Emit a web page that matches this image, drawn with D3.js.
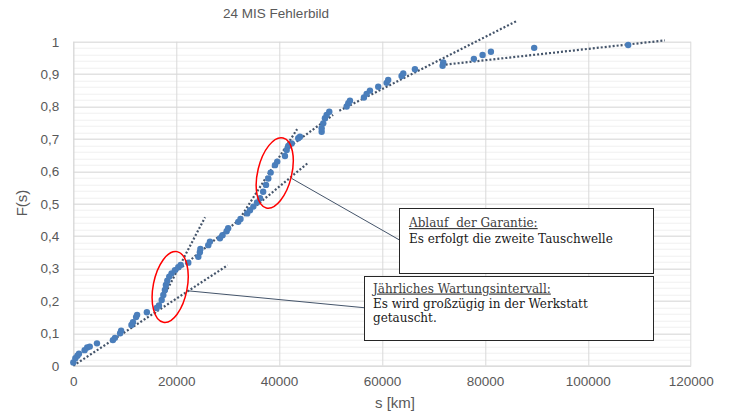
<!DOCTYPE html>
<html>
<head>
<meta charset="utf-8">
<script src="https://cdn.jsdelivr.net/npm/d3@7"></script>
<style>
  body { margin: 0; background: #fff; }
  svg { display: block; }
  .tick text { font-family: "Liberation Sans", Arial, sans-serif; font-size: 13.5px; fill: #595959; }
  .note { font-family: "DejaVu Serif", Georgia, serif; font-size: 12px; }
</style>
</head>
<body>
<svg id="chart" width="730" height="414"></svg>
<script>
// kilometres driven at failure and median rank F(s)
var km = [0, 400, 800, 1100, 2200, 2700, 3200, 4600, 7700, 8100, 9100, 9300, 11300, 11600, 12200, 12400, 14300,
    16200, 16650, 17180, 17500, 17800, 18000, 18270, 18650, 19100, 19760, 20400, 20870, 22350, 24300, 24600, 24700,
    26230, 26560, 28500, 29000, 29800, 30100, 32060, 32500,
    33800, 34340, 35000, 35700, 36300, 36900, 37450, 37900, 38360, 39200, 39640, 41140, 41470, 41780, 42440, 43720, 44050,
    48270, 48270, 48580, 48910, 49240, 49750, 53130, 53450, 53770, 56490, 57010, 57660, 59270, 60900, 61200,
    63800, 64130, 66400, 71780, 71900, 77860, 79550, 81170, 89580, 107850];
var Fs = [0.010, 0.023, 0.031, 0.037, 0.048, 0.056, 0.059, 0.069, 0.079, 0.086, 0.100, 0.108, 0.126, 0.134, 0.150, 0.157, 0.165,
    0.178, 0.186, 0.203, 0.218, 0.234, 0.249, 0.262, 0.275, 0.285, 0.295, 0.304, 0.311, 0.318, 0.336, 0.350, 0.360,
    0.372, 0.383, 0.393, 0.403, 0.415, 0.424, 0.444, 0.453,
    0.470, 0.480, 0.491, 0.504, 0.517, 0.537, 0.558, 0.578, 0.596, 0.619, 0.630, 0.647, 0.666, 0.678, 0.686, 0.702, 0.707,
    0.722, 0.733, 0.748, 0.764, 0.774, 0.784, 0.800, 0.810, 0.818, 0.828, 0.839, 0.849, 0.861, 0.873, 0.882,
    0.894, 0.902, 0.915, 0.926, 0.936, 0.947, 0.959, 0.969, 0.981, 0.990];

// dotted trend segments [x1, F1, x2, F2]
var trendLines = [
    [0, 0, 30000, 0.31],
    [15800, 0.16, 25600, 0.458],
    [20000, 0.29, 45700, 0.627],
    [32000, 0.445, 43500, 0.73],
    [41500, 0.67, 50500, 0.774],
    [51700, 0.787, 86200, 1.064],
    [71600, 0.928, 115000, 1.004]
];

var xTicks = [0, 20000, 40000, 60000, 80000, 100000, 120000];
var yTicks = [0, 0.1, 0.2, 0.3, 0.4, 0.5, 0.6, 0.7, 0.8, 0.9, 1];

// marked clusters: centre x, centre F, tilt in degrees
var clusters = [[18830, 0.243, 11], [39150, 0.595, 13.5]];

var data = km.map(function(d, i) { return {x: d, y: Fs[i]}; });

var svg = d3.select("#chart");
var margin = {top: 41.7, right: 39.3, bottom: 48.3, left: 73.3},
    width = 730 - margin.left - margin.right,
    height = 414 - margin.top - margin.bottom;

var xScale = d3.scaleLinear().domain([0, 120000]).range([0, width]);
var yScale = d3.scaleLinear().domain([0, 1]).range([height, 0]);

var g = svg.append("g")
    .attr("transform", "translate(" + margin.left + "," + margin.top + ")");

// minor horizontal grid
g.append("g").selectAll("line")
    .data(d3.range(0, 1.001, 0.02))
    .enter().append("line")
    .attr("x1", 0).attr("x2", width)
    .attr("y1", function(d) { return Math.round(yScale(d)) + 0.5; })
    .attr("y2", function(d) { return Math.round(yScale(d)) + 0.5; })
    .style("stroke", "#f0f0f0");

// major grid
g.append("g").selectAll("line")
    .data(yTicks)
    .enter().append("line")
    .attr("x1", 0).attr("x2", width)
    .attr("y1", function(d) { return Math.round(yScale(d)) + 0.5; })
    .attr("y2", function(d) { return Math.round(yScale(d)) + 0.5; })
    .style("stroke", "#d9d9d9");

g.append("g").selectAll("line")
    .data(xTicks)
    .enter().append("line")
    .attr("y1", 0).attr("y2", height)
    .attr("x1", function(d) { return Math.round(xScale(d)) + 0.5; })
    .attr("x2", function(d) { return Math.round(xScale(d)) + 0.5; })
    .style("stroke", "#d9d9d9");

var xAxis = d3.axisBottom(xScale).tickValues(xTicks).tickSize(0).tickPadding(11)
    .tickFormat(function(d) { return d; });
var yAxis = d3.axisLeft(yScale).tickValues(yTicks).tickSize(0).tickPadding(14)
    .tickFormat(function(d) { return (d === 0 || d === 1) ? d : d.toFixed(1).replace(".", ","); });

g.append("g")
    .attr("transform", "translate(0," + height + ")")
    .call(xAxis)
    .call(function(s) { s.select(".domain").style("stroke", "#d9d9d9"); });

g.append("g")
    .call(yAxis)
    .call(function(s) { s.select(".domain").style("stroke", "#d9d9d9"); });

// trend lines
g.append("g").selectAll("line")
    .data(trendLines)
    .enter().append("line")
    .attr("x1", function(d) { return xScale(d[0]); })
    .attr("y1", function(d) { return yScale(d[1]); })
    .attr("x2", function(d) { return xScale(d[2]); })
    .attr("y2", function(d) { return yScale(d[3]); })
    .style("stroke", "#44546a")
    .style("stroke-width", 2.2)
    .style("stroke-dasharray", "2,2");

// points
g.selectAll(".dot")
    .data(data)
    .enter().append("circle")
    .attr("class", "dot")
    .attr("r", 3.2)
    .attr("cx", function(d) { return xScale(d.x); })
    .attr("cy", function(d) { return yScale(d.y); })
    .style("fill", "#4a7ebb");

// red ellipses
g.append("g").selectAll("ellipse")
    .data(clusters)
    .enter().append("ellipse")
    .attr("rx", 17)
    .attr("ry", 36)
    .attr("transform", function(d) {
        return "translate(" + xScale(d[0]) + "," + yScale(d[1]) + ") rotate(" + d[2] + ")";
    })
    .style("fill", "none")
    .style("stroke", "#ff0000")
    .style("stroke-width", 1.5);

// callout connectors (from ellipse edge to box)
svg.append("line")
    .attr("x1", margin.left + xScale(22350)).attr("y1", margin.top + yScale(0.231))
    .attr("x2", 364).attr("y2", 307.7)
    .style("stroke", "#44546a").style("stroke-width", 1);
svg.append("line")
    .attr("x1", margin.left + xScale(42440)).attr("y1", margin.top + yScale(0.578))
    .attr("x2", 399.5).attr("y2", 240)
    .style("stroke", "#44546a").style("stroke-width", 1);

// note boxes
function noteBox(x, y, w, h, lines, tx, baselines) {
    svg.append("rect")
        .attr("x", x + 0.5).attr("y", y + 0.5)
        .attr("width", w).attr("height", h)
        .style("fill", "#fff").style("stroke", "#262626").style("stroke-width", 1);
    lines.forEach(function(t, i) {
        svg.append("text")
            .attr("class", "note")
            .attr("x", tx).attr("y", baselines[i])
            .style("fill", i === 0 ? "#404040" : "#1a1a1a")
            .style("text-decoration", i === 0 ? "underline" : null)
            .style("white-space", "pre")
            .text(t);
    });
}

noteBox(399, 208, 254, 65, ["Ablauf  der Garantie:", "Es erfolgt die zweite Tauschwelle"], 409, [227, 243]);
noteBox(364, 276, 289, 64, ["Jährliches Wartungsintervall:", "Es wird großzügig in der Werkstatt", "getauscht."], 373, [292.5, 307.5, 322]);

// titles
svg.append("text")
    .attr("x", 276).attr("y", 18)
    .style("text-anchor", "middle")
    .style("font-family", "Liberation Sans, Arial, sans-serif")
    .style("font-size", "13.5px")
    .style("fill", "#595959")
    .text("24 MIS Fehlerbild");

svg.append("text")
    .attr("x", 395).attr("y", 408)
    .style("text-anchor", "middle")
    .style("font-family", "Liberation Sans, Arial, sans-serif")
    .style("font-size", "15px")
    .style("fill", "#595959")
    .text("s [km]");

svg.append("text")
    .attr("transform", "translate(27,203) rotate(-90)")
    .style("text-anchor", "middle")
    .style("font-family", "Liberation Sans, Arial, sans-serif")
    .style("font-size", "15px")
    .style("fill", "#595959")
    .text("F(s)");
</script>
</body>
</html>
